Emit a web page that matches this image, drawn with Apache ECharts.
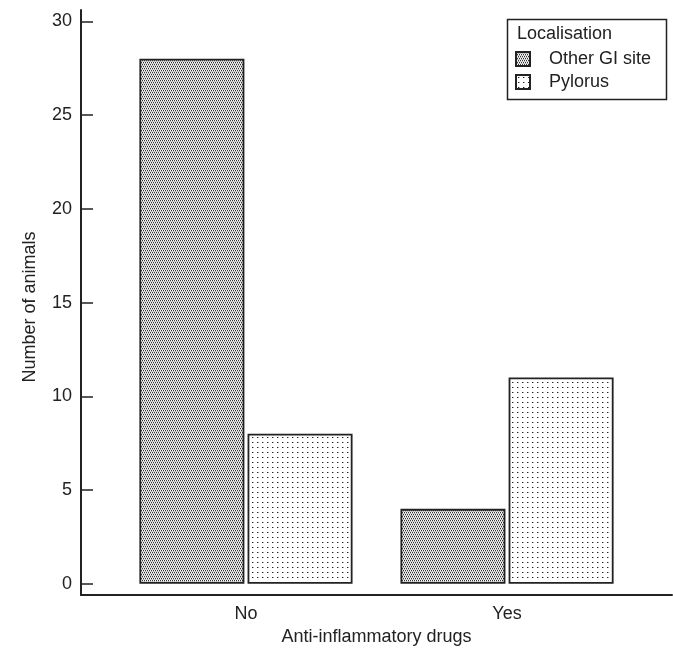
<!DOCTYPE html>
<html>
<head>
<meta charset="utf-8">
<script src="https://cdn.jsdelivr.net/npm/echarts@6/dist/echarts.min.js"></script>
<style>
html,body{margin:0;padding:0;background:#fff;}
#chart{width:673px;height:651px;}
</style>
</head>
<body>
<div id="chart"></div>
<script>
// ---- data ----
var categories = ['No', 'Yes'];
var seriesNames = ['Other GI site', 'Pylorus'];
var otherGI = [28, 4];
var pylorus = [8, 11];
var yTicks = [0, 5, 10, 15, 20, 25, 30];
var legendTitle = 'Localisation';
var xAxisName = 'Anti-inflammatory drugs';
var yAxisName = 'Number of animals';

// ---- patterns ----
function makeTile(w, h, painter) {
  var c = document.createElement('canvas');
  c.width = w; c.height = h;
  var ctx = c.getContext('2d');
  painter(ctx);
  return c;
}
var denseTile = makeTile(4, 4, function (ctx) {
  var rows = [
    ['#333', '#fff', '#333', '#fff'],
    ['#b4b4b4', '#d8d8d8', '#b4b4b4', '#d8d8d8'],
    ['#fff', '#333', '#fff', '#333'],
    ['#d8d8d8', '#b4b4b4', '#d8d8d8', '#b4b4b4']
  ];
  for (var r = 0; r < 4; r++) for (var k = 0; k < 4; k++) {
    ctx.fillStyle = rows[r][k]; ctx.fillRect(k, r, 1, 1);
  }
});
var dotTile = makeTile(5, 5, function (ctx) {
  ctx.fillStyle = '#fff'; ctx.fillRect(0, 0, 5, 5);
  ctx.fillStyle = '#222';
  ctx.fillRect(2, 2, 1, 1);
  ctx.fillStyle = '#aaa';
  ctx.fillRect(3, 2, 1, 1);
});
var fills = [
  { image: denseTile, repeat: 'repeat' },
  { image: dotTile, repeat: 'repeat' }
];

function toPoints(vals) {
  return vals.map(function (v, i) { return [i + 1, v]; });
}

var FONT = 'Liberation Sans, Arial, sans-serif';
var INK = '#222';

var chart = echarts.init(document.getElementById('chart'), null, { renderer: 'canvas' });
chart.setOption({
  animation: false,
  backgroundColor: '#fff',
  textStyle: { fontFamily: FONT, color: INK },
  grid: { left: 81, right: 1, top: 10, bottom: 55, containLabel: false },
  xAxis: {
    type: 'value',
    min: 0.368,
    max: 2.632,
    name: xAxisName,
    nameLocation: 'middle',
    nameGap: 29,
    nameTextStyle: { fontSize: 18, color: INK, fontFamily: FONT },
    axisLine: { show: true, onZero: false, lineStyle: { color: INK, width: 2 } },
    axisTick: { show: false },
    splitLine: { show: false },
    axisLabel: {
      customValues: categories.map(function (c, i) { return i + 1; }),
      formatter: function (v) { return categories[Math.round(v) - 1] || ''; },
      fontSize: 18, color: INK, margin: 10, fontFamily: FONT
    }
  },
  yAxis: {
    type: 'value',
    min: -0.6,
    max: 30.6,
    name: yAxisName,
    nameLocation: 'middle',
    nameGap: 42,
    nameRotate: 90,
    nameTextStyle: { fontSize: 18, color: INK, fontFamily: FONT, padding: [0, 9, 0, 0] },
    axisLine: { show: true, lineStyle: { color: INK, width: 2 } },
    axisTick: { show: true, inside: true, length: 12, customValues: yTicks, lineStyle: { color: INK, width: 1.5 } },
    splitLine: { show: false },
    axisLabel: { customValues: yTicks, fontSize: 18, color: INK, margin: 9, fontFamily: FONT }
  },
  legend: {
    orient: 'vertical',
    left: 515,
    top: 50,
    itemWidth: 14,
    itemHeight: 14,
    itemGap: 5,
    icon: 'rect',
    padding: 0,
    textStyle: { fontSize: 18, color: INK, fontFamily: FONT, padding: [0, 0, 0, 14] },
    data: seriesNames
  },
  graphic: [
    {
      type: 'rect',
      left: 505, top: 17,
      shape: { width: 159, height: 80 },
      style: { fill: 'none', stroke: INK, lineWidth: 1.5 },
      z: 10
    },
    {
      type: 'text',
      left: 517, top: 25,
      style: { text: legendTitle, fill: INK, font: '18px ' + FONT },
      z: 10
    }
  ],
  series: [
    {
      name: seriesNames[0],
      type: 'bar',
      barWidth: 105,
      barGap: '3%',
      data: toPoints(otherGI),
      itemStyle: { color: fills[0], borderColor: INK, borderWidth: 1.8 }
    },
    {
      name: seriesNames[1],
      type: 'bar',
      barWidth: 105,
      barGap: '3%',
      data: toPoints(pylorus),
      itemStyle: { color: fills[1], borderColor: INK, borderWidth: 1.8 }
    }
  ]
});
</script>
</body>
</html>
